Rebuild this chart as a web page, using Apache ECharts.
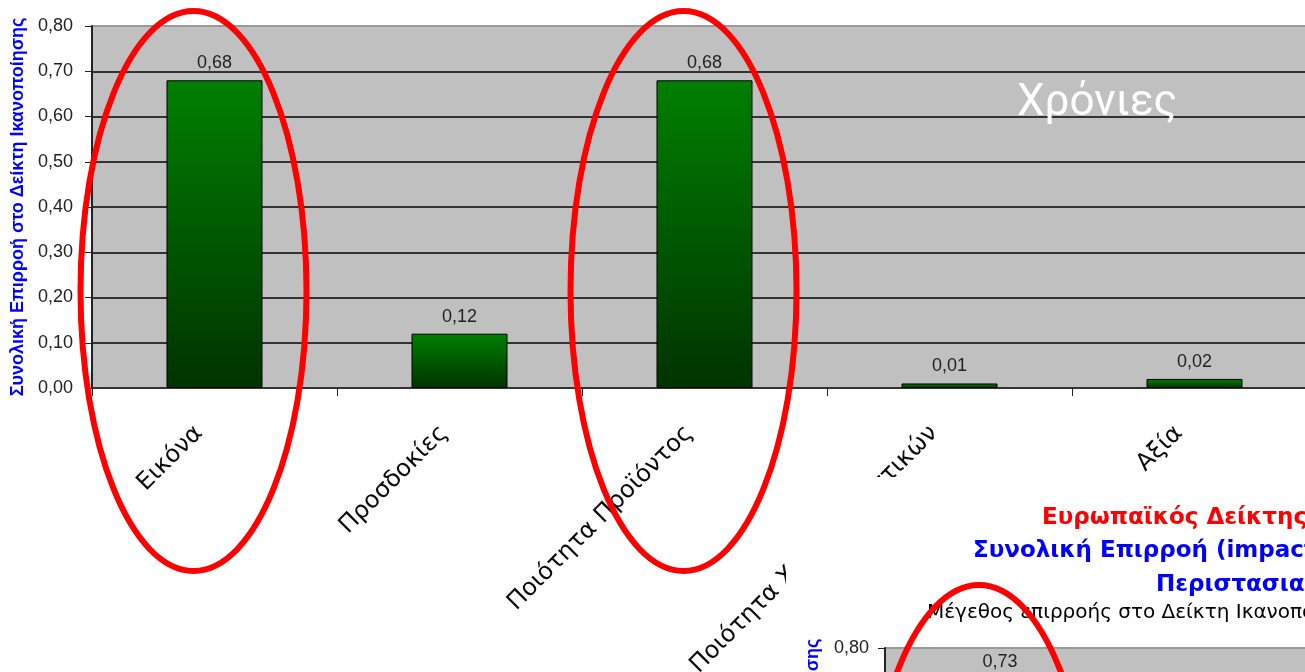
<!DOCTYPE html>
<html><head><meta charset="utf-8">
<script src="https://cdn.jsdelivr.net/npm/echarts@6/dist/echarts.min.js"></script>
<style>html,body{margin:0;padding:0;background:#fff;overflow:hidden}#c{width:1305px;height:672px}</style>
</head><body><div id="c"></div>
<script>
// ---- data ----
const categories = ['Εικόνα', 'Προσδοκίες', 'Ποιότητα Προϊόντος', 'Ποιότητα Χαρακτηριστικών', 'Αξία'];
const chronicValues = [0.68, 0.12, 0.68, 0.01, 0.02];       // main chart ("Χρόνιες")
const occasionalValues = [0.73];                             // second chart, only first bar visible
const yMin = 0, yMax = 0.8, yStep = 0.1;
const yAxisName = 'Συνολική Επιρροή στο Δείκτη Ικανοποίησης';
const chartLabel = 'Χρόνιες';
const titleRed = 'Ευρωπαϊκός Δείκτης Ικανοποίησης Πελάτη';
const titleBlue1 = 'Συνολική Επιρροή (impact) στην Ικανοποίηση';
const titleBlue2 = 'Περιστασιακοί';
const subTitle = 'Μέγεθος επιρροής στο Δείκτη Ικανοποίησης';
const circled = [[0, 0], [0, 2], [1, 0]]; // [seriesIndex, categoryIndex]

const fmt = v => v.toFixed(2).replace('.', ',');
const el = document.getElementById('c');
const chart = echarts.init(el, null, {renderer: 'canvas', width: 1305, height: 672});
const grad = () => new echarts.graphic.LinearGradient(0, 0, 0, 1, [
  {offset: 0, color: '#008000'}, {offset: 1, color: '#003300'}]);
const splitColors = ['#333', '#333', '#333', '#333', '#333', '#333', '#333', '#333', '#9a9a9a'];
const numFont = {fontFamily: 'Liberation Sans', fontSize: 18, color: '#222'};

function yAxis(gridIndex, z, margin) {
  return {
    type: 'value', gridIndex, min: yMin, max: yMax, interval: yStep, z,
    name: yAxisName, nameLocation: 'middle', nameGap: 63,
    nameTextStyle: {color: '#0000ff', fontWeight: 'bold', fontSize: 18, fontFamily: 'Liberation Sans'},
    axisLine: {show: true, lineStyle: {color: '#222', width: 2}},
    axisTick: {show: true, length: 7, lineStyle: {color: '#222', width: 1}},
    axisLabel: Object.assign({formatter: v => fmt(v), margin}, numFont),
    splitLine: {show: true, lineStyle: {color: splitColors, width: 2}}
  };
}
function xAxis(gridIndex, z) {
  return {
    type: 'category', gridIndex, data: categories, z,
    axisLine: {show: true, lineStyle: {color: '#333', width: 2}},
    axisTick: {show: true, length: 8, lineStyle: {color: '#222', width: 1}},
    axisLabel: {rotate: 45, interval: 0, margin: 26, padding: [0, 22, 0, 0],
      fontFamily: 'DejaVu Sans', fontSize: 24, color: '#0a0a0a'},
    splitLine: {show: false}
  };
}
const barLabel = Object.assign({show: true, position: 'top', distance: 8, formatter: p => fmt(p.value)}, numFont);

chart.setOption({
  animation: false,
  backgroundColor: '#ffffff',
  grid: [
    {left: 92, top: 26, width: 1225, height: 362, show: true, backgroundColor: '#c0c0c0', borderWidth: 0, outerBoundsMode: 'none', containLabel: false},
    {left: 885, top: 648, width: 1150, height: 360, show: true, backgroundColor: '#c0c0c0', borderWidth: 0, z: 4, outerBoundsMode: 'none', containLabel: false}
  ],
  xAxis: [xAxis(0, 0), xAxis(1, 4)],
  yAxis: [yAxis(0, 0, 19), yAxis(1, 4, 16)],
  series: [
    {type: 'bar', xAxisIndex: 0, yAxisIndex: 0, data: chronicValues, barWidth: 96,
      itemStyle: {color: grad(), borderColor: '#000', borderWidth: 1}, label: barLabel, z: 2},
    {type: 'bar', xAxisIndex: 1, yAxisIndex: 1, data: occasionalValues, barWidth: 90,
      itemStyle: {color: grad(), borderColor: '#000', borderWidth: 1}, label: barLabel, z: 5}
  ]
});

const elems = [
  {type: 'rect', z: 3, shape: {x: 786, y: 477, width: 600, height: 300}, style: {fill: '#fff'}},
  {type: 'text', z: 6, x: 1017, y: 104, style: {text: chartLabel, fill: '#fff', font: '44px Roboto', verticalAlign: 'middle'}},
  {type: 'text', z: 6, x: 1042, y: 518, style: {text: titleRed, fill: '#ff0000', font: 'bold 23px "DejaVu Sans"', verticalAlign: 'middle'}},
  {type: 'text', z: 6, x: 973, y: 551, style: {text: titleBlue1, fill: '#0000ff', font: 'bold 23px "DejaVu Sans"', verticalAlign: 'middle'}},
  {type: 'text', z: 6, x: 1156, y: 585, style: {text: titleBlue2, fill: '#0000ff', font: 'bold 23px "DejaVu Sans"', verticalAlign: 'middle'}},
  {type: 'text', z: 6, x: 927, y: 613, style: {text: subTitle, fill: '#000', font: '20px "DejaVu Sans"', verticalAlign: 'middle'}}
];
circled.forEach(([s, i]) => {
  const p = chart.convertToPixel({seriesIndex: s}, [i, 0]);
  const top = s === 0 ? 11 : 585;
  elems.push({type: 'ellipse', z: 10, silent: true,
    shape: {cx: p[0] - 21, cy: top + 280, rx: 113, ry: 280},
    style: {fill: 'none', stroke: '#ff0000', lineWidth: 6}});
});
chart.setOption({graphic: {elements: elems}});
</script></body></html>
